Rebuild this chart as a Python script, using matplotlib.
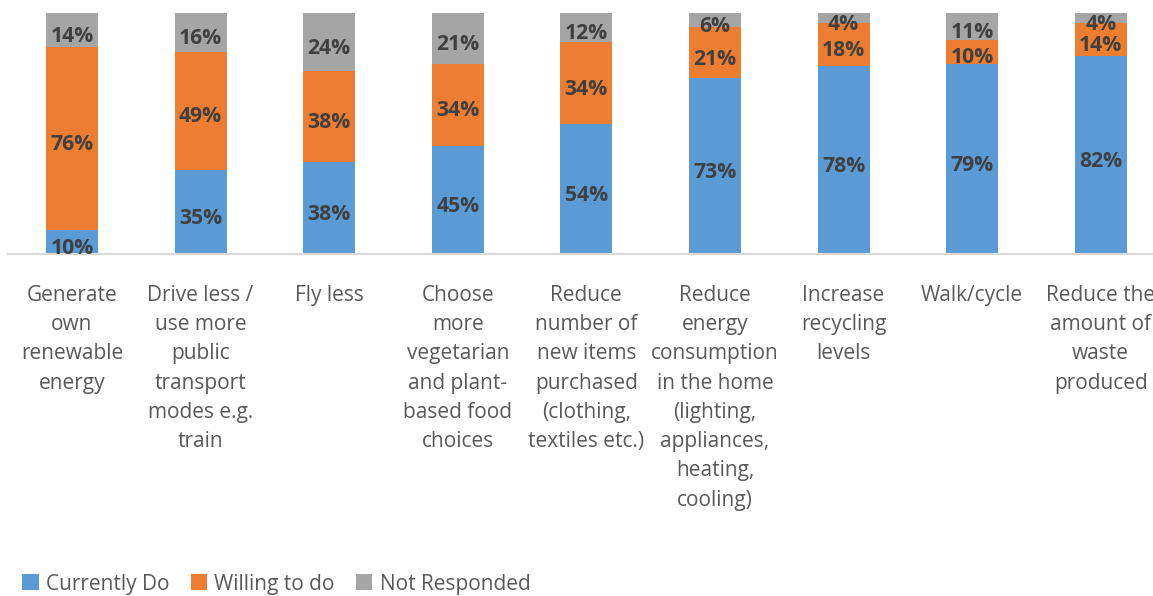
import numpy as np
import matplotlib.pyplot as plt
import matplotlib.transforms as mtransforms

# Survey results (% of respondents)
actions = [
    'Generate\nown\nrenewable\nenergy',
    'Drive less /\nuse more\npublic\ntransport\nmodes e.g.\ntrain',
    'Fly less',
    'Choose\nmore\nvegetarian\nand plant-\nbased food\nchoices',
    'Reduce\nnumber of\nnew items\npurchased\n(clothing,\ntextiles etc.)',
    'Reduce\nenergy\nconsumption\nin the home\n(lighting,\nappliances,\nheating,\ncooling)',
    'Increase\nrecycling\nlevels',
    'Walk/cycle',
    'Reduce the\namount of\nwaste\nproduced',
]
currently_do = [10, 35, 38, 45, 54, 73, 78, 79, 82]
willing_to_do = [76, 49, 38, 34, 34, 21, 18, 10, 14]
not_responded = [14, 16, 24, 21, 12, 6, 4, 11, 4]
# thin sliver sitting on top of every bar
other = [0.4] * 9

colors = ['#5B9BD5', '#ED7D31', '#A5A5A5', '#FFC000']
label_color = '#404040'
text_color = '#595959'

plt.rcParams['font.family'] = ['Open Sans', 'DejaVu Sans']

fig = plt.figure(figsize=(11.53, 5.96), dpi=100)
ax = fig.add_axes([0.0067, 0.5738, 1.0037, 0.4044])

x = np.arange(len(actions))
width = 0.404
bottom = np.zeros(len(actions))
series = [('Currently Do', currently_do), ('Willing to do', willing_to_do),
          ('Not Responded', not_responded), (None, other)]
# value labels sit a few pixels below the segment centre
shift = mtransforms.offset_copy(ax.transData, fig=fig, x=0, y=-4.5, units='points')
handles = []
for (name, vals), col in zip(series, colors):
    vals = np.array(vals, dtype=float)
    bars = ax.bar(x, vals, width, bottom=bottom, color=col, linewidth=0)
    if name is not None:
        handles.append((bars, name))
        for xi, b, v in zip(x, bottom, vals):
            ax.text(xi, b + v / 2, f'{v:.0f}%', ha='center', va='center',
                    fontsize=15.2, fontweight='bold', color=label_color,
                    transform=shift)
    bottom += vals

ax.set_xlim(-0.5, len(actions) - 0.5)
ax.set_ylim(0, 100)
ax.set_yticks([])
for side in ['top', 'right', 'left']:
    ax.spines[side].set_visible(False)
ax.spines['bottom'].set_color('#D9D9D9')
ax.spines['bottom'].set_linewidth(1.5)

ax.set_xticks(x)
ax.set_xticklabels(actions, fontsize=15, color=text_color, linespacing=1.52)
ax.tick_params(axis='x', length=0, pad=22)

fig.legend([h for h, _ in handles], [n for _, n in handles],
           loc='center left', bbox_to_anchor=(0.003, 0.02), ncol=3,
           frameon=False, fontsize=15, labelcolor=text_color,
           handlelength=0.8, handleheight=0.8, handletextpad=0.35,
           columnspacing=1.0)

fig.savefig('out.png', dpi=100)
